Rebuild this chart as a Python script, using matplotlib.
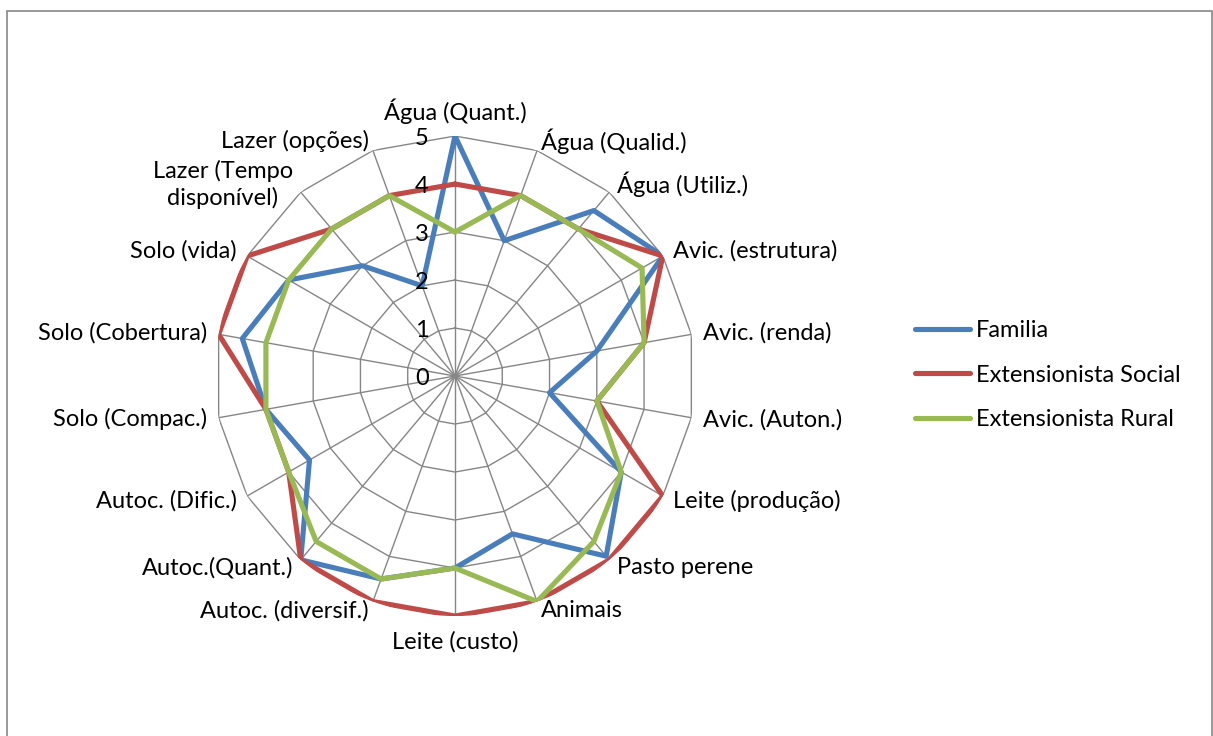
import numpy as np
import matplotlib
matplotlib.use("Agg")
import matplotlib.pyplot as plt
from matplotlib.patches import Rectangle

plt.rcParams["font.family"] = ["Lato", "DejaVu Sans"]

# Data
categories = [
    "Água (Quant.)", "Água (Qualid.)", "Água (Utiliz.)", "Avic. (estrutura)",
    "Avic. (renda)", "Avic. (Auton.)", "Leite (produção)", "Pasto perene",
    "Animais", "Leite (custo)", "Autoc. (diversif.)", "Autoc.(Quant.)",
    "Autoc. (Dific.)", "Solo (Compac.)", "Solo (Cobertura)", "Solo (vida)",
    "Lazer (Tempo\ndisponível)", "Lazer (opções)",
]
familia = [5, 3, 4.5, 5, 3, 2, 4, 4.9, 3.5, 4, 4.5, 5, 3.5, 4, 4.5, 4, 3, 2]
ext_social = [4, 4, 4, 5, 4, 3, 5, 5, 5, 5, 5, 5, 4, 4, 5, 5, 4, 4]
ext_rural = [3, 4, 4, 4.5, 4, 3, 4, 4.5, 5, 4, 4.5, 4.5, 4, 4, 4, 4, 4, 4]
series_names = ["Familia", "Extensionista Social", "Extensionista Rural"]
colors = ["#4A7EBB", "#BE4B48", "#98B954"]
rings = [1, 2, 3, 4, 5]

fs = 17
n = len(categories)
theta = np.linspace(0, 2 * np.pi, n, endpoint=False)
theta_c = np.append(theta, theta[0])

fig = plt.figure(figsize=(12.13, 7.36), dpi=100)
ax = fig.add_axes([0.17725, 0.163, 0.3957, 0.6522], projection="polar")
ax.set_theta_offset(np.pi / 2)
ax.set_theta_direction(-1)
ax.set_ylim(0, 5)
ax.grid(False)
ax.spines["polar"].set_visible(False)
ax.set_xticks([])
ax.set_yticks([])
ax.patch.set_alpha(0)

# polygon grid + spokes
grid_col = "#868686"
for r in rings:
    ax.plot(theta_c, [r] * (n + 1), color=grid_col, lw=1.0, zorder=1)
for t in theta:
    ax.plot([t, t], [0, 5], color=grid_col, lw=1.0, zorder=1)

for vals, name, c in zip([familia, ext_social, ext_rural], series_names, colors):
    ax.plot(theta_c, vals + vals[:1], color=c, lw=3.7, label=name,
            solid_joinstyle="round", solid_capstyle="round", zorder=3)

# radial value labels
for r in [0] + rings:
    ax.annotate(str(r), xy=(0, r), xytext=(-33, -2), textcoords="offset pixels",
                ha="center", va="center", fontsize=fs, zorder=4)

# category labels
for t, lab in zip(theta, categories):
    s, c = np.sin(t), np.cos(t)
    if abs(s) < 0.05:
        ha = "center"
        va = "baseline" if c > 0 else "top"
        off = (0, 16) if c > 0 else (0, -15)
    else:
        ha = "left" if s > 0 else "right"
        va = "center"
        off = (12 * s, 10 * c)
    ax.annotate(lab, xy=(t, 5), xytext=off, textcoords="offset pixels",
                ha=ha, va=va, fontsize=fs, multialignment="center",
                linespacing=1.3, annotation_clip=False)

fig.legend(loc="center left", bbox_to_anchor=(894 / 1213, 1 - 375 / 736),
           frameon=False, fontsize=fs, handlelength=2.33, handletextpad=0.25,
           labelspacing=1.0)

fig.patches.append(Rectangle((7 / 1213, -0.05), 1205 / 1213, 1.05 - 11 / 736,
                             transform=fig.transFigure, fill=False,
                             edgecolor="#878787", lw=1.2))

fig.savefig("out.png", dpi=100)
